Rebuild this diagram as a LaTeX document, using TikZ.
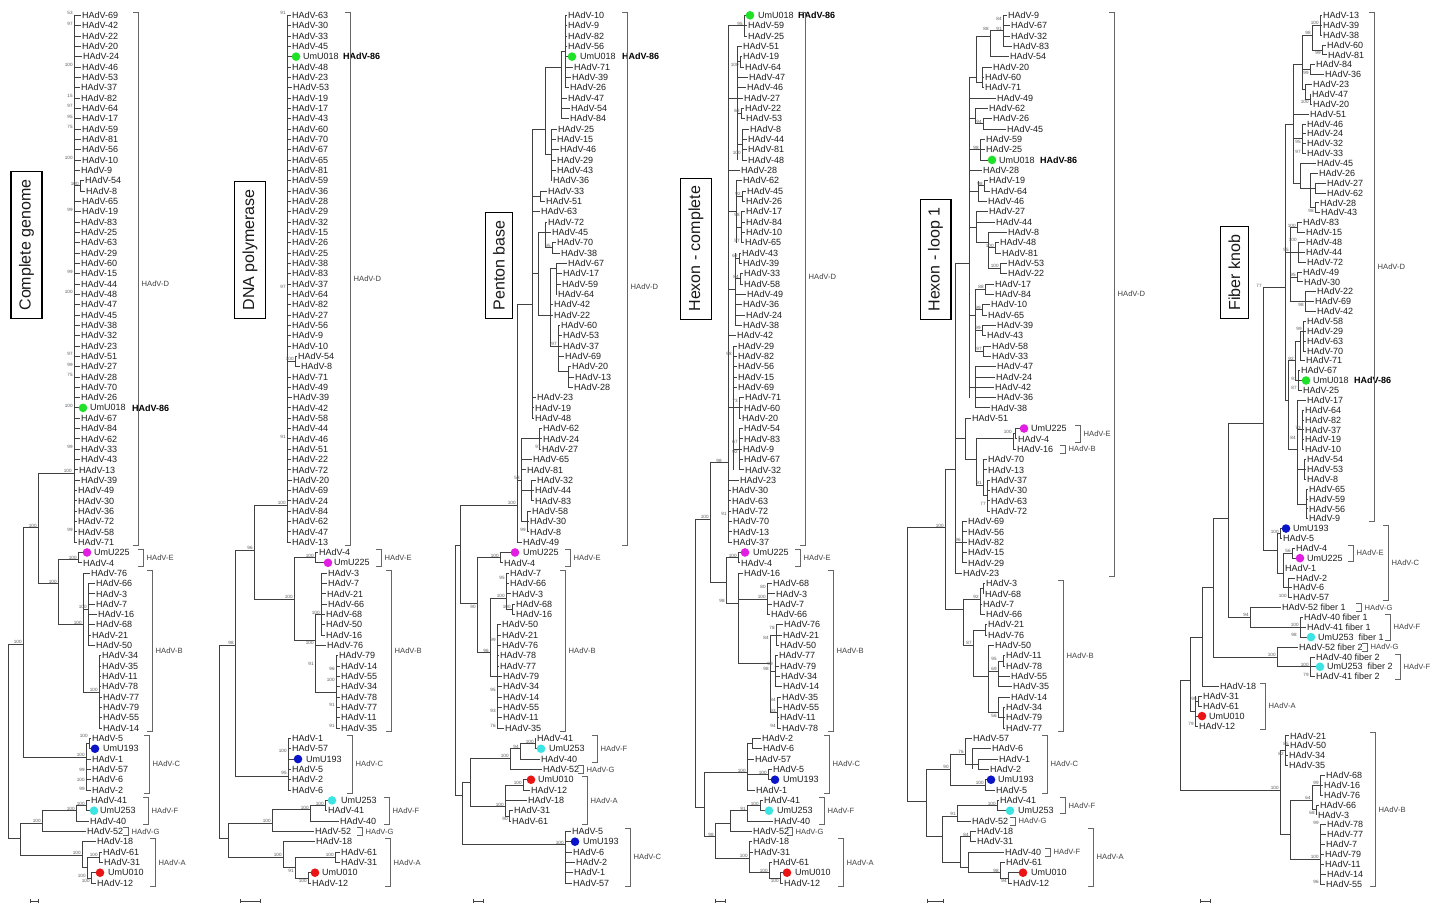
\documentclass[tikz,border=0pt]{standalone}
\usepackage{fontspec}
\setmainfont{Liberation Sans}
\definecolor{dgreen}{RGB}{30,225,40}
\definecolor{dmag}{RGB}{225,30,225}
\definecolor{dblue}{RGB}{10,20,200}
\definecolor{dcyan}{RGB}{60,228,228}
\definecolor{dred}{RGB}{235,20,20}
\definecolor{lnc}{RGB}{65,65,65}
\definecolor{txc}{RGB}{30,30,30}
\newcount\bscnt
\tikzset{
 mybr/.style={draw=lnc, line width=0.7pt},
 myleaf/.style={anchor=west, inner sep=0.6pt, font=\fontsize{9}{9.2}\selectfont, text=txc},
 mybold/.style={anchor=west, inner sep=0.6pt, font=\fontsize{9}{9.2}\selectfont\bfseries, text=black},
 mybs/.style={anchor=south east, inner sep=0.2pt, font=\fontsize{4.6}{5}\selectfont, text=black!65},
 mybrk/.style={draw=black!60, line width=0.75pt},
 myclab/.style={anchor=west, inner sep=0.5pt, font=\fontsize{7.6}{8}\selectfont, text=black!75},
 myttl/.style={draw=black, line width=1.1pt, rotate=90, anchor=west, font=\fontsize{16}{18}\selectfont, inner xsep=8pt, inner ysep=8pt, text=black!90},
}
\newcommand\mycl[5]{\draw[mybr] (#1,#2) -- (#1,#3); \draw[mybr] (#4,#5) -- (#1,#5);}
\newcommand\mydl[7]{\draw[mybr] (#3,#2) -- ({#4-4},#2); \fill[#7] (#4,#2) circle[radius=4.3pt]; \node[myleaf] (#1) at ({#5-0.6},#2) {#6};}
\newcommand\mybld[3]{\node[mybold] (#1) at ({#2-0.6},#3) {HAdV-86};}
\newcommand\mybn[3]{\global\advance\bscnt by 1\relax \node[mybs] (bs\the\bscnt) at (#1,#2) {#3};}
\newcommand\mybrk[6]{\draw[mybrk] ({#1-5},#2) -- (#1,#2) -- (#1,#3) -- ({#1-5},#3); \node[myclab] (#6) at ({#1+3},#4) {#5};}
\begin{document}
\begin{tikzpicture}[x=1pt,y=-1pt]
\path[use as bounding box] (0,0) rectangle (1438,906);
\fill[white] (0,0) rectangle (1438,906);
% titles
\node[myttl] (t1) at (26.5,319) {Complete genome};
\node[myttl] (t2) at (250,319) {DNA polymerase};
\node[myttl] (t3) at (499,319) {Penton base};
\node[myttl] (t4) at (696,320) {Hexon - complete};
\node[myttl] (t5) at (935.5,320) {Hexon - loop 1};
\node[myttl] (t6) at (1234.5,319) {Fiber knob};
% scale bars
\foreach \xa/\xb in {30/38,240/260,473/483,715/725,927/943,1200/1210} {
 \draw[mybr] (\xa,901) -- (\xb,901); \draw[mybr] (\xa,899) -- (\xa,903); \draw[mybr] (\xb,899) -- (\xb,903);}

\begin{scope}[yshift=-4.97pt, y=-10.33pt]
%%%%%%%%%%%%%%%% TREE 1
\draw[mybr] (74,1) -- (74,52); \draw[mybr] (38,45.3) -- (74,45.3);
\mycl{80}{17}{18}{74}{17.5}
\mycl{38}{45.3}{56}{23}{50.6}
\mycl{58}{53.7}{60}{38}{56}
\mycl{78}{53}{54}{58}{53.7}
\mycl{83}{55}{66.5}{58}{60}
\mycl{88}{56}{62}{83}{58.5}
\mycl{99}{63}{70}{83}{66.5}
\mycl{23}{50.6}{72.8}{8}{61.9}
\mycl{86}{71.5}{76}{23}{72.8}
\mycl{89}{71}{72}{86}{71.5}
\draw[mybr] (8,61.9) -- (8,80.7);
\mycl{20}{79.2}{82.3}{8}{80.7}
\mycl{42}{78}{80}{20}{79.2}
\mycl{76}{77.5}{79}{42}{78}
\mycl{86}{77}{78}{76}{77.5}
\mycl{82}{81}{83.5}{20}{82.3}
\mycl{87}{82.5}{84.5}{82}{83.5}
\mycl{99}{82}{83}{87}{82.5}
\mycl{91}{84}{85}{87}{84.5}
\foreach \rr/\bx/\tx/\nn in {1/74/82/69,2/74/82/42,3/74/82/22,4/74/82/20,5/74/83/24,6/74/82/46,7/74/82/53,8/74/81/37,9/74/81/82,10/74/82/64,11/74/82/17,12/74/82/59,13/74/82/81,14/74/82/56,15/74/82/10,16/74/81/9,17/80/85/54,18/80/86/8,19/74/82/65,20/74/82/19,21/74/81/83,22/74/81/25,23/74/81/63,24/74/81/29,25/74/81/60,26/74/81/15,27/74/81/44,28/74/81/48,29/74/81/47,30/74/81/45,31/74/81/38,32/74/81/32,33/74/81/23,34/74/81/51,35/74/81/27,36/74/81/28,37/74/81/70,38/74/81/26,40/74/81/67,41/74/81/84,42/74/81/62,43/74/81/33,44/74/81/43,45/74/79/13,46/74/81/39,47/74/78/49,48/74/78/30,49/74/78/36,50/74/78/72,51/74/78/58,52/74/78/71,54/78/83/4,55/83/91/76,56/88/96/66,57/88/96/3,58/88/96/7,59/88/98/16,60/88/96/68,61/88/92/21,62/88/96/50,63/99/102/34,64/99/102/35,65/99/102/11,66/99/102/78,67/99/103/77,68/99/103/79,69/99/103/55,70/99/103/14,71/89/92/5,73/86/92/1,74/86/92/57,75/86/92/6,76/86/92/2,77/86/91/41,79/76/90/40,80/42/87/52,81/82/97/18,82/99/103/61,83/99/104/31,85/91/97/12}
 {\node[myleaf] (a\rr) at ({\tx-0.6},\rr) {HAdV-\nn}; \draw[mybr] (\bx,\rr) -- (a\rr.west);}
\mydl{a39}{39}{74}{83}{90}{UmU018}{dgreen} \mybld{a39b}{132}{39}
\mydl{a53}{53}{78}{87}{94}{UmU225}{dmag}
\mydl{a72}{72}{89}{95}{103}{UmU193}{dblue}
\mydl{a78}{78}{86}{94}{100}{UmU253}{dcyan}
\mydl{a84}{84}{91}{100}{108}{UmU010}{dred}
\mybrk{138}{0.7}{52.3}{27}{HAdV-D}{ca1}
\mybrk{143}{52.7}{54.3}{53.5}{HAdV-E}{ca2}
\mybrk{152}{54.7}{70.3}{62.5}{HAdV-B}{ca3}
\mybrk{149}{70.7}{76.3}{73.5}{HAdV-C}{ca4}
\mybrk{148}{76.7}{79.3}{78}{HAdV-F}{ca5}
\mybrk{128}{79.6}{80.4}{80}{HAdV-G}{ca6}
\mybrk{155}{80.7}{85.3}{83}{HAdV-A}{ca7}
\foreach \xx/\yy/\tt in {73/1/53,73/2/97,73/6/100,73/9/15,73/10/97,73/11/95,73/12/75,73/15/100,79/17.5/100,73/20/99,73/26/99,73/28/100,73/34/97,73/35/99,73/36/75,73/39/100,73/43/99,72/45.3/100,73/51/99,37/50.6/100,57/56/100,77/53.7/100,82/60/100,87/58.5/100,98/66.5/100,22/61.9/100,88/71/100,85/72.8/100,85/74.2/99,85/75.2/100,85/76.1/99,85/77.5/100,75/78/100,41/79.2/100,81/82.3/100,98/82.5/100,86/84.5/100,90/85/100}
 {\mybn{\xx}{\yy}{\tt}}

%%%%%%%%%%%%%%%% TREE 2
\draw[mybr] (287,1) -- (287,52); \draw[mybr] (254,48.4) -- (287,48.4);
\mycl{295}{34}{35}{287}{34.5}
\mycl{254}{48.4}{57.5}{235}{52.8}
\mycl{294}{53.5}{61.5}{254}{57.5}
\mycl{315}{53}{54}{294}{53.5}
\mycl{315}{59}{66.5}{294}{61.5}
\mycl{321}{55}{61}{315}{59}
\mycl{336}{63}{70}{315}{66.5}
\mycl{235}{52.8}{74.7}{219}{62}
\mycl{288}{71}{76}{235}{74.7}
\draw[mybr] (219,62) -- (219,80.7);
\mycl{228}{79.2}{82.5}{219}{80.7}
\mycl{272}{77.9}{80}{228}{79.2}
\mycl{310}{77.5}{79}{272}{77.9}
\mycl{325}{77}{78}{310}{77.5}
\mycl{283}{81}{83.5}{228}{82.5}
\mycl{295}{82.5}{84.5}{283}{83.5}
\mycl{335}{82}{83}{295}{82.5}
\mycl{308}{84}{85}{295}{84.5}
\foreach \rr/\bx/\tx/\nn in {1/287/292/63,2/287/292/30,3/287/292/33,4/287/292/45,6/287/292/48,7/287/292/23,8/287/293/53,9/287/292/19,10/287/292/17,11/287/292/43,12/287/292/60,13/287/292/70,14/287/292/67,15/287/292/65,16/287/292/81,17/287/292/59,18/287/292/36,19/287/292/28,20/287/292/29,21/287/292/32,22/287/292/15,23/287/292/26,24/287/292/25,25/287/292/38,26/287/292/83,27/287/292/37,28/287/292/64,29/287/292/82,30/287/292/27,31/287/292/56,32/287/292/9,33/287/292/10,34/295/298/54,35/295/301/8,36/287/292/71,37/287/292/49,38/287/293/39,39/287/292/42,40/287/292/58,41/287/292/44,42/287/292/46,43/287/292/51,44/287/292/22,45/287/292/72,46/287/293/20,47/287/292/69,48/287/292/24,49/287/292/84,50/287/292/62,51/287/292/47,52/287/292/13,53/315/319/4,55/321/328/3,56/321/328/7,57/321/327/21,58/321/328/66,59/321/326/68,60/321/326/50,61/321/326/16,62/315/327/76,63/336/339/79,64/336/341/14,65/336/341/55,66/336/341/34,67/336/341/78,68/336/341/77,69/336/341/11,70/336/341/35,71/288/292/1,72/288/292/57,74/288/292/5,75/288/292/2,76/288/292/6,78/325/328/41,79/310/340/40,80/272/315/52,81/283/316/18,82/335/341/61,83/335/341/31,85/308/312/12}
 {\node[myleaf] (b\rr) at ({\tx-0.6},\rr) {HAdV-\nn}; \draw[mybr] (\bx,\rr) -- (b\rr.west);}
\mydl{b5}{5}{287}{296}{303}{UmU018}{dgreen} \mybld{b5b}{343}{5}
\mydl{b54}{54}{315}{328}{334}{UmU225}{dmag}
\mydl{b73}{73}{288}{298}{306}{UmU193}{dblue}
\mydl{b77}{77}{325}{332}{341}{UmU253}{dcyan}
\mydl{b84}{84}{308}{315}{322}{UmU010}{dred}
\mybrk{350}{0.7}{52.3}{26.5}{HAdV-D}{cb1}
\mybrk{381}{52.7}{54.3}{53.5}{HAdV-E}{cb2}
\mybrk{391}{54.7}{70.3}{62.5}{HAdV-B}{cb3}
\mybrk{352}{70.7}{76.3}{73.5}{HAdV-C}{cb4}
\mybrk{389}{76.7}{79.3}{78}{HAdV-F}{cb5}
\mybrk{362}{79.6}{80.4}{80}{HAdV-G}{cb6}
\mybrk{390}{80.7}{85.3}{83}{HAdV-A}{cb7}
\foreach \xx/\yy/\tt in {286/1/91,286/27.5/97,286/42/91,286/48.4/100,294/34.5/100,253/52.8/96,293/57.5/100,314/53.5/100,320/59/100,314/62/100,314/64/91,335/64.5/96,335/65.5/100,335/68/91,335/70/91,287/72.4/100,287/74.5/95,234/62/98,271/79.2/100,309/77.9/100,324/77.5/100,282/82.5/100,334/82.5/100,294/84/91,307/85/100}
 {\mybn{\xx}{\yy}{\tt}}

%%%%%%%%%%%%%%%% TREE 3
\draw[mybr] (455,52.3) -- (455,76.5);
\mycl{460}{48.4}{57.9}{455}{52.3}
\draw[mybr] (460,48.4) -- (517,48.4); \draw[mybr] (517,29) -- (517,52);
\mycl{532}{12}{40}{517}{29}
\mycl{521}{42}{50}{517}{46}
\mycl{545}{6}{14.5}{532}{12}
\mycl{561}{4.5}{11}{545}{6}
\mycl{565}{1}{8}{561}{4.5}
\mycl{551}{12}{17}{545}{14.5}
\mycl{540}{18}{19}{532}{18.5}
\mycl{538}{22}{30}{532}{26}
\mycl{545}{21}{23.5}{538}{22}
\mycl{552}{23}{24}{545}{23.5}
\mycl{550}{25.5}{33}{538}{30}
\mycl{556}{25}{28}{550}{25.5}
\mycl{558}{31}{35.5}{550}{33}
\mycl{568}{35}{37}{558}{35.5}
\mycl{539}{41}{43}{521}{42}
\mycl{531}{46}{48}{521}{47}
\mycl{527}{49}{51}{521}{50}
\mycl{477}{53.5}{62.7}{460}{57.9}
\mycl{500}{53}{54}{477}{53.5}
\mycl{490}{57.4}{65}{477}{62.7}
\mycl{506}{55}{58.5}{490}{57.4}
\mycl{512}{58}{59}{506}{58.5}
\mycl{497}{60}{70}{490}{65}
\mycl{462}{75.3}{81.3}{455}{76.5}
\mycl{470}{72.9}{77.6}{462}{75.3}
\mycl{510}{72}{74}{470}{72.9}
\mycl{520}{71.5}{73}{510}{72}
\mycl{535}{71}{72}{520}{71.5}
\mycl{505}{75.5}{78.5}{470}{77.6}
\mycl{523}{75}{76}{505}{75.5}
\mycl{509}{78}{79}{505}{78.5}
\mycl{565}{80}{85}{462}{81.3}
\foreach \rr/\bx/\tx/\nn in {1/565/568/10,2/565/568/9,3/565/568/82,4/565/568/56,6/565/574/71,7/565/572/39,8/565/570/26,9/561/568/47,10/561/571/54,11/561/570/84,12/551/558/25,13/551/557/15,14/551/560/46,15/551/557/29,16/551/557/43,17/551/553/36,18/540/548/33,19/540/546/51,20/532/541/63,21/545/548/72,22/545/552/45,23/552/557/70,24/552/561/38,25/556/568/67,26/556/563/17,27/556/562/59,28/556/558/64,29/550/554/42,30/550/554/22,31/558/561/60,32/558/563/53,33/558/563/37,34/558/565/69,35/568/572/20,36/568/575/13,37/568/574/28,38/532/537/23,39/532/535/19,40/532/535/48,41/539/543/62,42/539/543/24,43/539/542/27,44/521/533/65,45/521/527/81,46/531/537/32,47/531/535/44,48/531/535/83,49/527/532/58,50/527/530/30,51/527/530/8,52/517/523/49,54/500/504/4,55/506/510/7,56/506/510/66,57/506/512/3,58/512/516/68,59/512/516/16,60/497/502/50,61/497/502/21,62/497/502/76,63/497/500/78,64/497/500/77,65/497/503/79,66/497/503/34,67/497/503/14,68/497/503/55,69/497/503/11,70/497/505/35,71/535/537/41,73/520/541/40,74/510/543/52,76/523/531/12,77/505/528/18,78/509/514/31,79/509/512/61,80/565/572/5,82/565/573/6,83/565/576/2,84/565/574/1,85/565/573/57}
 {\node[myleaf] (c\rr) at ({\tx-0.6},\rr) {HAdV-\nn}; \draw[mybr] (\bx,\rr) -- (c\rr.west);}
\mydl{c5}{5}{565}{572}{580}{UmU018}{dgreen} \mybld{c5b}{622}{5}
\mydl{c53}{53}{500}{515}{523}{UmU225}{dmag}
\mydl{c72}{72}{535}{541}{549}{UmU253}{dcyan}
\mydl{c75}{75}{523}{531}{538}{UmU010}{dred}
\mydl{c81}{81}{565}{575}{583}{UmU193}{dblue}
\mybrk{627}{0.7}{52.3}{27.3}{HAdV-D}{cc1}
\mybrk{570}{52.7}{54.3}{53.5}{HAdV-E}{cc2}
\mybrk{565}{54.7}{70.3}{62.5}{HAdV-B}{cc3}
\mybrk{597}{70.7}{73.3}{72}{HAdV-F}{cc4}
\mybrk{583}{73.6}{74.4}{74}{HAdV-G}{cc5}
\mybrk{587}{74.7}{79.3}{77}{HAdV-A}{cc6}
\mybrk{630}{79.7}{85.3}{82.5}{HAdV-C}{cc7}
\foreach \xx/\yy/\tt in {551/23.5/95,557/33/97,541/43/97,520/46/53,516/48.4/100,526/51/99,499/53.5/100,476/58.5/90,505/55.7/95,505/57.4/100,511/58.5/100,496/61.7/99,489/62.7/96,496/66.5/95,496/68.5/93,496/70/76,509/72.9/100,519/72/94,534/71.5/100,522/75.5/100,504/77.6/100,508/79/90,564/81.3/100}
 {\mybn{\xx}{\yy}{\tt}}

%%%%%%%%%%%%%%%% TREE 4
\draw[mybr] (695,49.8) -- (695,77.7);
\mycl{710}{44.3}{55.9}{695}{49.8}
\draw[mybr] (710,44.3) -- (728,44.3); \draw[mybr] (728,2) -- (728,52);
\mycl{744}{1}{3}{728}{2}
\mycl{737}{4}{15}{728}{9}
\mycl{740}{5}{6}{737}{5.5}
\mycl{741}{10}{11}{737}{10.5}
\mycl{742}{12}{15}{737}{13.5}
\mycl{736}{17}{23}{728}{20}
\mycl{742}{18}{19}{736}{18.5}
\mycl{741}{20}{23}{736}{21.5}
\mycl{735}{24}{31}{728}{27.5}
\mycl{739}{24}{25}{735}{24.5}
\mycl{740}{26}{27}{735}{26.5}
\mycl{733}{33}{45}{728}{39}
\mycl{739}{38}{40}{733}{39}
\mycl{739}{41}{45}{733}{43}
\mycl{726}{53.5}{57.9}{710}{55.9}
\mycl{738}{53}{54}{726}{53.5}
\mycl{738}{55}{63.7}{726}{57.9}
\mycl{767}{56}{59}{738}{57.5}
\mycl{770}{61}{68.5}{738}{63.7}
\mycl{776}{60}{62}{770}{61}
\mycl{775}{63}{66}{770}{64.5}
\mycl{777}{67}{70}{770}{68.5}
\mycl{704}{74.3}{80.5}{695}{77.7}
\mycl{747}{71.5}{76}{704}{74.3}
\mycl{752}{71}{72}{747}{71.5}
\mycl{768}{74}{75}{747}{74.5}
\mycl{715}{79.2}{82.6}{704}{80.5}
\mycl{730}{78}{80}{715}{79.2}
\mycl{747}{77.5}{79}{730}{78}
\mycl{760}{77}{78}{747}{77.5}
\mycl{749}{81}{84}{715}{82.6}
\mycl{769}{83}{84.5}{749}{84}
\mycl{780}{84}{85}{769}{84.5}
\foreach \rr/\bx/\tx/\nn in {2/744/748/59,3/744/748/25,4/737/743/51,5/740/743/19,6/740/745/64,7/737/749/47,8/737/747/46,9/737/744/27,10/741/745/22,11/741/746/53,12/742/750/8,13/742/748/44,14/742/748/81,15/742/748/48,16/728/741/28,17/736/743/62,18/742/747/45,19/742/746/26,20/741/746/17,21/741/746/84,22/741/746/10,23/741/745/65,24/739/742/43,25/739/743/39,26/740/744/33,27/740/744/58,28/735/747/49,29/735/743/36,30/735/746/24,31/735/743/38,32/728/737/42,33/733/738/29,34/733/738/82,35/733/738/56,36/733/738/15,37/733/738/69,38/739/745/71,39/739/744/60,40/739/742/20,41/739/744/54,42/739/744/83,43/739/743/9,44/739/744/67,45/739/745/32,46/728/740/23,47/728/732/30,48/728/732/63,49/728/732/72,50/728/733/70,51/728/733/13,52/728/733/37,54/738/741/4,55/738/744/16,56/767/773/68,57/767/776/3,58/767/773/7,59/767/771/66,60/776/784/76,61/776/783/21,62/776/780/50,63/775/779/77,64/775/780/79,65/775/781/34,66/775/783/14,67/777/782/35,68/777/783/55,69/777/780/11,70/777/782/78,71/752/762/2,72/752/763/6,73/747/755/57,74/768/773/5,76/747/756/1,77/760/764/41,79/747/774/40,80/730/753/52,81/749/753/18,82/749/754/31,83/769/773/61,85/780/784/12}
 {\node[myleaf] (d\rr) at ({\tx-0.6},\rr) {HAdV-\nn}; \draw[mybr] (\bx,\rr) -- (d\rr.west);}
\mydl{d1}{1}{744}{750}{758}{UmU018}{dgreen} \mybld{d1b}{798}{1}
\mydl{d53}{53}{738}{745}{753}{UmU225}{dmag}
\mydl{d75}{75}{768}{775}{783}{UmU193}{dblue}
\mydl{d78}{78}{760}{769}{777}{UmU253}{dcyan}
\mydl{d84}{84}{780}{787}{795}{UmU010}{dred}
\mybrk{805}{0.7}{52.3}{26.3}{HAdV-D}{cd1}
\mybrk{800}{52.7}{54.3}{53.5}{HAdV-E}{cd2}
\mybrk{833}{54.7}{70.3}{62.5}{HAdV-B}{cd3}
\mybrk{829}{70.7}{76.3}{73.5}{HAdV-C}{cd4}
\mybrk{824}{76.7}{79.3}{78}{HAdV-F}{cd5}
\mybrk{792}{79.6}{80.4}{80}{HAdV-G}{cd6}
\mybrk{843}{80.7}{85.3}{83}{HAdV-A}{cd7}
\foreach \xx/\yy/\tt in {743/2/95,739/6/100,740/10.5/62,741/14.5/100,741/18.5/92,740/20.5/98,740/23/57,738/24.5/62,739/26.5/84,732/34/98,738/38.5/73,738/42.5/67,738/43.5/92,722/44.3/98,727/49.5/91,709/49.8/100,737/53.5/100,725/57.9/98,766/56.5/80,766/57.5/100,775/60.5/78,769/61.5/84,773/64/99,769/64.5/98,776/67.5/84,776/68.5/93,776/70/94,746/74.3/100,767/74.5/100,759/77.5/100,746/78/91,714/80.5/98,748/82.6/100,768/84/100,779/85/100}
 {\mybn{\xx}{\yy}{\tt}}

%%%%%%%%%%%%%%%% TREE 5
\draw[mybr] (907,50.6) -- (907,77.1);
\mycl{945}{45}{58.5}{907}{50.6}
\mycl{955}{25}{55}{945}{45}
\mycl{962}{50}{54}{955}{52}
\mycl{965}{40}{44}{955}{42}
\mycl{976}{42}{46.5}{965}{44}
\mycl{1013}{41.5}{43}{976}{42}
\mycl{1015}{41}{42}{1013}{41.5}
\mycl{983}{44}{47.5}{976}{46.5}
\mycl{987}{46}{49}{983}{47.5}
\mycl{969}{7}{38}{955}{25}
\mycl{976}{3}{7.5}{969}{7}
\mycl{990}{2.5}{5}{976}{3}
\mycl{1003}{1}{4}{990}{2.5}
\mycl{982}{6}{8}{976}{7.5}
\mycl{975}{10}{11.5}{969}{11}
\mycl{983}{11}{12}{975}{11.5}
\mycl{980}{13}{15}{969}{14}
\mycl{978}{17}{19}{969}{18}
\mycl{984}{17}{18}{978}{17.5}
\mycl{976}{20}{23}{969}{21.5}
\mycl{988}{22}{25.5}{976}{23}
\mycl{995}{23}{24}{988}{23.5}
\mycl{1000}{25}{26}{988}{25.5}
\mycl{975}{27.5}{33.5}{969}{30}
\mycl{985}{27}{28}{975}{27.5}
\mycl{982}{29}{30}{975}{29.5}
\mycl{982}{31}{32}{975}{31.5}
\mycl{983}{33}{34}{975}{33.5}
\mycl{975}{35}{39}{969}{37}
\mycl{963}{57.5}{62}{945}{58.5}
\mycl{980}{56.5}{59}{963}{57.5}
\mycl{983}{56}{57}{980}{56.5}
\mycl{973}{60.5}{65}{963}{62}
\mycl{985}{60}{61}{973}{60.5}
\mycl{988}{62}{68.5}{973}{65}
\mycl{998}{63.5}{66}{988}{64.5}
\mycl{1003}{63}{64}{998}{63.5}
\mycl{998}{67}{69}{988}{68.5}
\mycl{1003}{68}{70}{998}{69}
\mycl{926}{74}{80.5}{907}{77.1}
\mycl{950}{72.5}{75.5}{926}{74}
\mycl{965}{71}{73.5}{950}{72.5}
\mycl{972}{72}{74}{965}{73.5}
\mycl{978}{73}{74}{972}{73.5}
\mycl{985}{75}{76}{950}{75.5}
\mycl{942}{78.5}{83}{926}{80.5}
\mycl{957}{77.5}{79}{942}{78.5}
\mycl{997}{77}{78}{957}{77.5}
\mycl{960}{80.5}{83.5}{942}{83}
\mycl{970}{80}{81}{960}{80.5}
\mycl{968}{82}{84}{960}{83.5}
\mycl{1000}{83}{84.5}{968}{84}
\mycl{1008}{84}{85}{1000}{84.5}
\foreach \rr/\bx/\tx/\nn in {1/1003/1008/9,2/1003/1011/67,3/1003/1011/32,4/1003/1013/83,5/990/1010/54,6/982/993/20,7/982/985/60,8/982/985/71,9/969/997/49,10/975/989/62,11/983/993/26,12/983/1007/45,13/980/986/59,14/980/986/25,16/969/983/28,17/984/989/19,18/984/991/64,19/978/988/46,20/976/989/27,21/976/996/44,22/988/1008/8,23/995/1000/48,24/995/1002/81,25/1000/1008/53,26/1000/1008/22,27/985/995/17,28/985/995/84,29/982/991/10,30/982/988/65,31/982/997/39,32/982/987/43,33/983/992/58,34/983/992/33,35/975/997/47,36/975/996/24,37/975/995/42,38/975/997/36,39/975/991/38,40/965/972/51,42/1015/1018/4,43/1013/1017/16,44/983/988/70,45/983/988/13,46/987/991/37,47/987/991/30,48/987/991/63,49/987/991/72,50/962/968/69,51/962/968/56,52/962/968/82,53/962/968/15,54/962/968/29,55/955/963/23,56/983/986/3,57/983/985/68,58/980/983/7,59/980/986/66,60/985/988/21,61/985/988/76,62/988/995/50,63/1003/1006/11,64/1003/1006/78,65/998/1011/55,66/998/1013/35,67/998/1011/14,68/1003/1006/34,69/1003/1006/79,70/1003/1006/77,71/965/973/57,72/972/992/6,73/978/999/1,74/978/990/2,76/985/996/5,77/997/1000/41,79/957/972/52,80/970/977/18,81/970/977/31,82/968/1005/40,83/1000/1006/61,85/1008/1013/12}
 {\node[myleaf] (e\rr) at ({\tx-0.6},\rr) {HAdV-\nn}; \draw[mybr] (\bx,\rr) -- (e\rr.west);}
\mydl{e15}{15}{980}{992}{999}{UmU018}{dgreen} \mybld{e15b}{1040}{15}
\mydl{e41}{41}{1015}{1024}{1031}{UmU225}{dmag}
\mydl{e75}{75}{985}{991}{998}{UmU193}{dblue}
\mydl{e78}{78}{997}{1010}{1018}{UmU253}{dcyan}
\mydl{e84}{84}{1008}{1023}{1031}{UmU010}{dred}
\mybrk{1114}{0.7}{55.3}{28}{HAdV-D}{ce1}
\mybrk{1080}{40.7}{42.3}{41.5}{HAdV-E}{ce2}
\mybrk{1065}{42.6}{43.4}{43}{HAdV-B}{ce3}
\mybrk{1063}{55.7}{70.3}{63}{HAdV-B}{ce4}
\mybrk{1047}{70.7}{76.3}{73.5}{HAdV-C}{ce5}
\mybrk{1065}{76.7}{78.3}{77.5}{HAdV-F}{ce6}
\mybrk{1015}{78.6}{79.4}{79}{HAdV-G}{ce7}
\mybrk{1050}{81.6}{82.4}{82}{HAdV-F}{ce8}
\mybrk{1093}{79.7}{85.3}{82.5}{HAdV-A}{ce9}
\foreach \xx/\yy/\tt in {1002/1.5/84,1002/2.5/91,989/2.5/88,982/11.5/94,979/14/98,983/17.5/98,994/23.5/100,999/25.5/100,984/27.5/88,981/29.5/99,981/31.5/99,982/33.5/97,1012/41.5/100,982/46.5/91,986/48.5/77,961/52/96,944/50.6/100,979/57.5/92,972/62/87,997/63.5/95,997/64.5/69,997/69/56,964/72.5/76,949/74/90,984/75.5/100,996/77.5/100,956/78.5/91,969/80.5/84,999/84/98,1007/85/94}
 {\mybn{\xx}{\yy}{\tt}}
\end{scope}

%%%%%%%%%%%%%%%% TREE 6
\begin{scope}[yshift=-5.43pt, y=-9.87pt]
\draw[mybr] (1180,68.4) -- (1180,79.5);
\mycl{1190}{64}{71.5}{1180}{68.4}
\mycl{1195}{70}{73}{1190}{71.5}
\mycl{1198}{70}{71}{1195}{70.5}
\mycl{1202}{59}{69}{1190}{64}
\mycl{1213}{52}{66}{1202}{59}
\mycl{1228}{42.3}{62}{1213}{52}
\mycl{1263}{28.6}{55.2}{1228}{42.3}
\mycl{1250}{61}{63}{1228}{62}
\mycl{1300}{62}{64}{1250}{63}
\mycl{1277}{65}{67}{1213}{66}
\mycl{1310}{66}{68}{1277}{67}
\mycl{1277}{53.5}{57.5}{1263}{55.2}
\mycl{1280}{53}{54}{1277}{53.5}
\mycl{1283}{55.5}{59}{1277}{57.5}
\mycl{1292}{55}{56}{1283}{55.5}
\mycl{1288}{58}{60}{1283}{59}
\draw[mybr] (1263,28.6) -- (1285,28.6); \draw[mybr] (1285,12) -- (1285,40);
\mycl{1293}{6}{18}{1285}{12}
\mycl{1302}{3}{8.5}{1293}{6}
\mycl{1312}{2}{4.5}{1302}{3}
\mycl{1320}{1}{3}{1312}{2}
\mycl{1322}{4}{5}{1312}{4.5}
\mycl{1310}{6}{7}{1302}{6.5}
\mycl{1305}{8}{9.5}{1302}{8.5}
\mycl{1310}{9}{10}{1305}{9.5}
\mycl{1302}{12}{15}{1293}{13.5}
\mycl{1300}{16}{18.5}{1293}{18}
\mycl{1310}{17}{20.5}{1300}{18.5}
\mycl{1315}{18}{19}{1310}{18.5}
\mycl{1315}{20}{21}{1310}{20.5}
\mycl{1290}{22.5}{30}{1285}{25}
\mycl{1297}{22}{23}{1290}{22.5}
\mycl{1298}{24}{26}{1290}{25}
\mycl{1297}{27}{28}{1290}{27.5}
\mycl{1305}{29}{31}{1290}{30}
\mycl{1288}{36}{45}{1285}{40}
\mycl{1295}{34}{38}{1288}{36}
\mycl{1300}{33}{36}{1295}{34}
\mycl{1303}{32}{35}{1300}{33}
\mycl{1298}{37}{39}{1295}{38}
\mycl{1297}{40}{50.5}{1288}{45}
\mycl{1302}{41}{45}{1297}{43}
\mycl{1304}{46}{48}{1297}{47}
\mycl{1306}{49}{52}{1297}{50.5}
\draw[mybr] (1180,79.5) -- (1280,79.5); \draw[mybr] (1280,75.5) -- (1280,84);
\mycl{1285}{74}{77}{1280}{75.5}
\mycl{1290}{80.5}{86.5}{1280}{84}
\mycl{1312}{79}{81.5}{1290}{80.5}
\mycl{1320}{78}{80}{1312}{79}
\mycl{1316}{81}{82}{1312}{81.5}
\mycl{1320}{83}{89}{1290}{86.5}
\foreach \rr/\bx/\tx/\nn in {1/1320/1323/13,2/1320/1323/39,3/1320/1323/38,4/1322/1327/60,5/1322/1328/81,6/1310/1316/84,7/1310/1325/36,8/1305/1313/23,9/1310/1312/47,10/1310/1313/20,11/1293/1310/51,12/1302/1307/46,13/1302/1307/24,14/1302/1307/32,15/1302/1307/33,16/1300/1317/45,17/1310/1319/26,18/1315/1327/27,19/1315/1327/62,20/1315/1320/28,21/1315/1321/43,22/1297/1303/83,23/1297/1306/15,24/1298/1306/48,25/1298/1306/44,26/1298/1307/72,27/1297/1303/49,28/1297/1304/30,29/1305/1317/22,30/1305/1315/69,31/1305/1317/42,32/1303/1307/58,33/1303/1307/29,34/1303/1307/63,35/1303/1307/70,36/1300/1306/71,37/1298/1301/67,39/1298/1303/25,40/1297/1307/17,41/1302/1305/64,42/1302/1305/82,43/1302/1305/37,44/1302/1305/19,45/1302/1305/10,46/1304/1307/54,47/1304/1307/53,48/1304/1307/8,49/1306/1309/65,50/1306/1309/59,51/1306/1309/56,52/1306/1309/9,54/1280/1283/5,55/1292/1296/4,57/1283/1285/1,58/1288/1296/2,59/1288/1293/6,60/1288/1293/57,61/1250/1282/52 fiber 1,62/1300/1304/40 fiber 1,63/1300/1307/41 fiber 1,65/1277/1299/52 fiber 2,66/1310/1316/40 fiber 2,68/1310/1316/41 fiber 2,69/1202/1220/18,70/1198/1203/31,71/1198/1203/61,73/1195/1199/12,74/1285/1290/21,75/1285/1290/50,76/1285/1289/34,77/1285/1289/35,78/1320/1326/68,79/1320/1324/16,80/1320/1324/76,81/1316/1320/66,82/1316/1318/3,83/1320/1327/78,84/1320/1327/77,85/1320/1326/7,86/1320/1325/79,87/1320/1325/11,88/1320/1327/14,89/1320/1326/55}
 {\node[myleaf] (f\rr) at ({\tx-0.6},\rr) {HAdV-\nn}; \draw[mybr] (\bx,\rr) -- (f\rr.west);}
\mydl{f38}{38}{1298}{1306}{1313}{UmU018}{dgreen} \mybld{f38b}{1354}{38}
\mydl{f53}{53}{1280}{1286}{1293}{UmU193}{dblue}
\mydl{f56}{56}{1292}{1300}{1307}{UmU225}{dmag}
\mydl{f64}{64}{1300}{1311}{1318}{UmU253~ fiber 1}{dcyan}
\mydl{f67}{67}{1310}{1320}{1327}{UmU253~ fiber 2}{dcyan}
\mydl{f72}{72}{1195}{1202}{1209}{UmU010}{dred}
\mybrk{1374}{0.7}{52.3}{26.5}{HAdV-D}{cf1}
\mybrk{1388}{52.7}{60.3}{56.5}{HAdV-C}{cf2}
\mybrk{1353}{54.7}{56.3}{55.5}{HAdV-E}{cf3}
\mybrk{1361}{60.6}{61.4}{61}{HAdV-G}{cf4}
\mybrk{1390}{61.7}{64.3}{63}{HAdV-F}{cf5}
\mybrk{1367}{64.6}{65.4}{65}{HAdV-G}{cf6}
\mybrk{1400}{65.7}{68.3}{67}{HAdV-F}{cf7}
\mybrk{1265}{68.7}{73.3}{71}{HAdV-A}{cf8}
\mybrk{1375}{73.7}{89.3}{81.5}{HAdV-B}{cf9}
\foreach \xx/\yy/\tt in {1319/2/100,1311/3/98,1321/5/99,1309/7/99,1309/10/100,1301/14/95,1301/15/97,1314/21/98,1296/22.5/100,1297/24/100,1289/25/95,1296/27.5/95,1304/30.5/98,1262/28.6/77,1302/33/99,1294/36/92,1297/38/91,1297/39/87,1301/43/73,1296/44/84,1279/53.5/100,1291/55.5/56,1287/60/100,1249/62/94,1299/63/100,1297/64/98,1276/66/100,1309/67/100,1309/68/79,1197/70.5/99,1194/73/79,1289/75/85,1284/76/82,1311/80.5/64,1319/79/99,1315/82/68,1319/83/99,1319/86.5/100,1319/89/96,1279/79.5/100}
 {\mybn{\xx}{\yy}{\tt}}
\end{scope}
\end{tikzpicture}
\end{document}
